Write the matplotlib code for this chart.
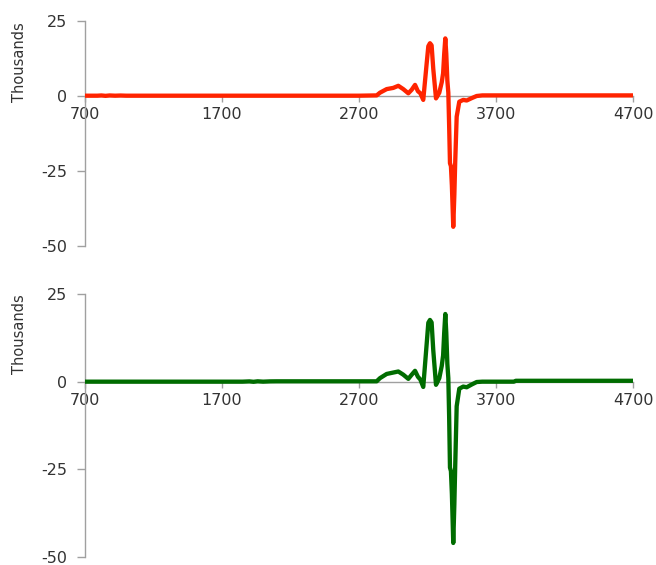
import matplotlib
matplotlib.use("Agg")
import matplotlib.pyplot as plt

# Wavenumber axis and signal (in thousands) for the two spectra
wn_top = [700, 790, 820, 850, 880, 920, 960, 1000, 2700, 2829, 2853, 2902, 2950,
          2987, 3023, 3060, 3085, 3109, 3130, 3148, 3169, 3194, 3206, 3218, 3230,
          3242, 3262, 3286, 3304, 3314, 3322, 3330, 3337, 3345, 3352, 3358, 3364,
          3371, 3378, 3388, 3396, 3402, 3413, 3432, 3461, 3486, 3523, 3559, 3600,
          4700]
val_top = [0.0, 0.0, 0.08, -0.05, 0.08, 0.0, 0.06, 0.0, 0.0, 0.1, 1.0, 2.2, 2.6,
           3.3, 2.2, 0.8, 2.0, 3.6, 1.5, 0.8, -1.4, 10.8, 16.5, 17.5, 16.8,
           9.0, -0.9, 1.0, 4.5, 7.5, 14.0, 19.1, 14.0, 5.0, 1.0, -10.0, -22.5,
           -23.5, -30.0, -43.7, -33.0, -22.5, -7.0, -2.0, -1.4, -1.6, -0.8, -0.1, 0.1,
           0.1]

wn_bot = [700, 1850, 1900, 1930, 1960, 2000, 2050, 2100, 2700, 2829, 2853, 2902,
          2950, 2987, 3023, 3060, 3085, 3109, 3130, 3148, 3169, 3194, 3206, 3218,
          3230, 3242, 3262, 3286, 3304, 3314, 3322, 3330, 3337, 3345, 3352, 3358,
          3364, 3371, 3378, 3388, 3396, 3402, 3413, 3432, 3461, 3486, 3523, 3559,
          3600, 3830, 3845, 4700]
val_bot = [0.0, 0.0, 0.08, -0.04, 0.1, 0.0, 0.08, 0.1, 0.1, 0.1, 1.0, 2.2, 2.6,
           2.9, 2.0, 0.8, 2.0, 3.1, 1.4, 0.6, -1.5, 10.8, 16.8, 17.6, 16.9,
           9.0, -0.9, 1.0, 4.5, 7.5, 14.0, 19.3, 14.0, 5.0, 1.0, -10.0, -24.5,
           -25.5, -32.0, -46.0, -35.0, -24.5, -7.0, -2.0, -1.4, -1.6, -0.8, -0.1,
           0.0, 0.0, 0.25, 0.25]

x_ticks = [700, 1700, 2700, 3700, 4700]
y_ticks = [25, 0, -25, -50]

RED = "#ff2400"
GREEN = "#006c00"
AXIS_GREY = "#a0a0a0"
TEXT = "#333333"

fig = plt.figure(figsize=(6.56, 5.65), dpi=100)
W, H = 656, 565


def panel(rect_px, wn, vals, color, label_xy):
    left, top, right, bottom = rect_px
    ax = fig.add_axes([left / W, 1 - bottom / H, (right - left) / W, (bottom - top) / H])
    ax.plot(wn, vals, color=color, lw=3.1, solid_joinstyle="round",
            solid_capstyle="butt", zorder=3)
    ax.set_xlim(700, 4700)
    ax.set_ylim(-50, 25)
    for s in ("top", "right"):
        ax.spines[s].set_visible(False)
    ax.spines["left"].set_color(AXIS_GREY)
    ax.spines["left"].set_linewidth(1.0)
    ax.spines["bottom"].set_position(("data", 0))
    ax.spines["bottom"].set_color(AXIS_GREY)
    ax.spines["bottom"].set_linewidth(1.0)
    ax.spines["bottom"].set_zorder(2)
    ax.set_xticks(x_ticks)
    ax.set_xticklabels([str(t) for t in x_ticks])
    ax.set_yticks(y_ticks)
    ax.set_yticklabels([str(t) for t in y_ticks])
    ax.tick_params(axis="x", direction="out", length=4, width=1, color=AXIS_GREY,
                   pad=4, labelsize=11.5, labelcolor=TEXT)
    ax.tick_params(axis="y", direction="out", length=6, width=1, color=AXIS_GREY,
                   pad=7, labelsize=11.5, labelcolor=TEXT)
    for lab in ax.get_xticklabels() + ax.get_yticklabels():
        lab.set_family("DejaVu Sans")
    ax.patch.set_alpha(0)
    fig.text(label_xy[0] / W, 1 - label_xy[1] / H, "Thousands", rotation=90,
             ha="center", va="center", fontsize=10.5, color=TEXT,
             family="DejaVu Sans")
    return ax


panel((85, 20.7, 633, 245.7), wn_top, val_top, RED, (20, 62))
panel((85, 294, 633, 557), wn_bot, val_bot, GREEN, (20, 334))

fig.savefig("out.png", dpi=100)
